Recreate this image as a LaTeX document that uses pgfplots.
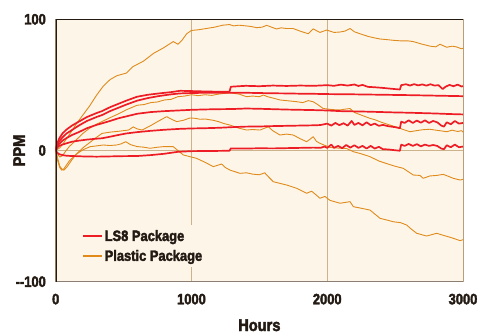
\documentclass[border=0pt]{standalone}
\usepackage{fontspec}
\setmainfont{Liberation Sans}[FakeStretch=0.86]
\newfontfamily\hvb{Liberation Sans Bold}[FakeStretch=0.86, FakeBold=2.5]
\usepackage{pgfplots}
\pgfplotsset{compat=1.18}
\definecolor{bgc}{HTML}{FDF6E8}
\definecolor{redc}{HTML}{EE1C25}
\definecolor{orc}{HTML}{E08A1C}
\definecolor{gridc}{HTML}{CDB38B}
\definecolor{txtc}{HTML}{231A14}
\definecolor{botc}{HTML}{8A7F72}
\begin{document}
\begin{tikzpicture}
\path[use as bounding box] (0,0) rectangle (479bp,334bp);
\begin{axis}[
  at={(55.7bp,52.3bp)}, anchor=south west,
  scale only axis, width=407.3bp, height=262.4bp,
  xmin=0,xmax=3000,ymin=-100,ymax=100,
  xtick={0,1000,2000,3000}, xticklabels={0,1000,2000,3000},
  ytick={-100,0,100}, yticklabels={--100,0,100},
  major tick length=0pt,
  grid=major, grid style={gridc, line width=0.9bp},
  axis line style={draw=none},
  axis background/.style={fill=bgc},
  tick label style={font=\fontsize{15bp}{18bp}\selectfont\hvb, text=txtc, inner sep=0pt},
  xticklabel style={anchor=base, yshift=-22.6bp},
  yticklabel style={anchor=east, xshift=-9.7bp},
  xlabel={Hours}, ylabel={PPM},
  label style={font=\fontsize{17bp}{20bp}\selectfont\hvb, text=txtc, inner sep=0pt},
  xlabel style={at={(axis description cs:0.5,-0.1879)}, anchor=base},
  ylabel style={at={(axis description cs:-0.0754,0.5)}, anchor=base},
  legend image code/.code={\draw[#1] (0bp,0bp) -- (18.4bp,0bp);},
  legend style={at={(axis description cs:0.055,0.054)}, anchor=south west, fill=bgc, draw=none,
    font=\fontsize{15bp}{18bp}\selectfont\hvb, text=txtc, row sep=3.5bp,
    inner xsep=4bp, inner ysep=3bp, cells={anchor=west}},
  every axis plot/.append style={line join=round},
]
\addlegendimage{redc, line width=2bp}
\addlegendentry{LS8 Package}
\addlegendimage{orc, line width=2bp}
\addlegendentry{Plastic Package}

% Plastic package (orange)
\addplot[orc, line width=0.9bp, forget plot] coordinates {
(0,0) (30,2) (60,6) (100,12) (150,20) (200,27) (250,34) (300,42) (350,49) (400,54) (450,57)
(520,59) (570,64) (645,68) (720,74) (790,78) (866,83) (900,81) (930,84) (965,89) (1000,91.5)
(1050,92) (1110,93) (1170,94) (1230,95.5) (1280,96) (1310,95) (1350,95.5) (1400,95) (1440,94.5) (1480,93.6)
(1520,94) (1554,95.4) (1590,94) (1627,92.6) (1660,93.5) (1700,93) (1748,93) (1800,91) (1860,89)
(1896,92.7) (1946,90) (1996,91.8) (2050,90) (2094,90.3) (2130,91) (2168,93) (2200,90.5) (2241,89) (2300,87)
(2340,86) (2388,85) (2440,84.5) (2486,84) (2550,83.5) (2600,83.5) (2634,83) (2700,81) (2759,79.5)
(2800,79) (2830,81) (2880,78.7) (2920,79.5) (2950,79) (2990,77.5) (3000,78)
};
\addplot[orc, line width=0.9bp, forget plot] coordinates {
(0,0) (15,-3) (30,-5) (50,-4) (70,-1) (100,3) (150,8) (200,13) (250,17) (300,20) (350,22.5) (400,25)
(464,28) (520,31) (600,34.5) (650,35) (700,36.5) (750,37) (800,38.5) (850,39) (900,41) (950,41.5)
(1000,42.5) (1050,41.8) (1100,42.5) (1150,42) (1200,43) (1283,44) (1350,43) (1406,41) (1450,41.5)
(1500,41) (1530,42.3) (1560,41) (1600,40) (1652,38.5) (1700,38) (1775,37.2) (1820,36.5) (1860,38)
(1896,37.2) (1930,35) (1970,32) (2020,31.4) (2060,31) (2094,30.9) (2130,31.5) (2168,32) (2200,29)
(2250,27) (2315,24.5) (2350,23.5) (2400,21.5) (2462,19.4) (2520,17.5) (2560,16) (2609,14.3)
(2650,15) (2700,15.8) (2756,16.2) (2800,15.5) (2850,14.8) (2880,14.3) (2920,15.5) (2960,14.5)
(2990,15.1) (3000,14)
};
\addplot[orc, line width=0.9bp, forget plot] coordinates {
(0,0) (15,-6) (30,-12) (45,-14) (60,-15) (80,-13) (100,-10) (120,-7) (150,-3) (200,2) (250,6)
(300,10) (341,13) (400,14) (450,14.5) (537,15.6) (571,18) (600,16.5) (636,15.6) (700,19) (750,22)
(817,25.8) (850,24) (891,22) (940,23) (989,24.8) (1030,24.5) (1063,23.8) (1100,24) (1161,23)
(1200,22) (1234,20.7) (1283,19.4) (1350,17) (1406,15.6) (1450,16) (1505,15.6) (1566,18.1)
(1600,15) (1652,11.8) (1700,12.5) (1750,11.8) (1800,9) (1849,6.7) (1897,10.5) (1920,7) (1946,5.5)
(1980,4) (2020,2.4) (2094,1.7) (2143,1.5) (2192,-0.9) (2250,-2.5) (2315,-4.7) (2380,-8) (2438,-10)
(2500,-12) (2560,-13.6) (2634,-18.7) (2683,-19) (2707,-21.2) (2756,-19.4) (2806,-19) (2855,-18.2)
(2900,-20) (2928,-21.2) (2978,-22.5) (3000,-22)
};
\addplot[orc, line width=0.9bp, forget plot] coordinates {
(0,0) (15,-8) (30,-13) (44,-15) (60,-14) (80,-11) (100,-8) (150,-3) (200,0.5) (253,2.9) (300,3.5)
(350,4.2) (400,3.8) (449,4.2) (480,5) (516,6.7) (550,4.5) (600,3) (650,2.5) (695,1.7) (750,2.5)
(800,3) (866,2.9) (900,0) (940,-3.4) (989,-4.7) (1038,-6) (1063,-7.2) (1100,-9) (1161,-12.3)
(1222,-10.3) (1250,-13) (1283,-14.9) (1357,-17.4) (1406,-17) (1450,-18) (1500,-18.5) (1540,-17)
(1554,-18.7) (1603,-23.8) (1650,-25) (1701,-26.3) (1775,-28.8) (1849,-32.6) (1885,-31) (1920,-34)
(1946,-36.4) (1983,-35) (2020,-38) (2094,-40.2) (2168,-39) (2192,-42.8) (2250,-44) (2315,-45.4)
(2389,-51.7) (2440,-53) (2486,-54.3) (2540,-55) (2585,-56.8) (2620,-60) (2659,-63.1) (2732,-65.2)
(2806,-63.1) (2850,-64.5) (2900,-66) (2928,-66.9) (2978,-68.7) (3000,-68)
};

% LS8 package (red)
\addplot[redc, line width=1.7bp, forget plot] coordinates {
(0,0) (10,5) (25,9) (50,13) (80,16) (120,19) (170,22) (230,25.5) (300,28.5) (341,30) (400,33)
(460,35.5) (520,38) (600,41) (680,42.5) (760,43.5) (850,44.5) (915,45.5) (1000,45.3) (1100,45)
(1200,44.8) (1280,44.8) (1290,48.6) (1350,49) (1400,49.3) (1500,49) (1600,49.5) (1700,49.2)
(1800,49.5) (1900,49.3) (2000,49.8) (2050,49.3) (2100,50.2) (2150,49.5) (2200,50.3) (2230,49.2)
(2260,50) (2300,48.5) (2350,48.2) (2400,47.8) (2450,47.3) (2500,46.8) (2535,46.5) (2545,49.8)
(2580,50.5) (2610,49.5) (2640,50.6) (2670,49.6) (2700,50.4) (2730,49.4) (2760,50.5) (2790,49.5)
(2820,49.8) (2850,46.8) (2870,48.5) (2900,50) (2930,49) (2960,50.2) (2990,48.8) (3000,49)
};
\addplot[redc, line width=1.7bp, forget plot] coordinates {
(0,0) (10,4) (25,7) (50,10) (80,13) (120,15.6) (170,19) (230,22.5) (300,25.5) (341,27) (400,30)
(460,32.5) (520,35) (600,38) (680,40) (760,41.5) (850,42.8) (915,43.5) (1000,43.8) (1100,44)
(1200,44) (1300,44) (1400,44) (1500,43.8) (1600,43.6) (1700,43.5) (1800,43.3) (1900,43.2)
(2000,43) (2200,42.8) (2400,42.5) (2600,42.2) (2800,41.8) (3000,41.4)
};
\addplot[redc, line width=1.7bp, forget plot] coordinates {
(0,0) (10,2.5) (25,5) (50,7.5) (80,9.5) (120,11.8) (170,14) (230,17) (300,19.5) (341,20.7)
(400,22.5) (460,24.5) (520,26) (600,28) (700,29.3) (800,30) (900,30.5) (1000,31) (1100,31.3)
(1200,31.5) (1300,31.6) (1400,32) (1500,31.8) (1600,31.5) (1700,31.2) (1800,31) (1900,30.8)
(2000,30.5) (2100,30) (2200,29.8) (2300,29.6) (2400,29.3) (2500,29) (2600,28.8) (2700,28.5)
(2800,28.2) (2900,27.8) (3000,27.5)
};
\addplot[redc, line width=1.7bp, forget plot] coordinates {
(0,0) (10,2) (25,3.5) (50,4.5) (80,5.5) (120,6.7) (170,7.5) (230,8.3) (300,9) (341,9.3) (400,10.5)
(460,11.8) (520,13) (600,14) (700,15) (800,15.8) (915,16.5) (1000,16.8) (1100,17) (1200,17.3)
(1300,17.8) (1400,18.2) (1500,18.3) (1600,18.6) (1700,18.8) (1800,19) (1900,19.2) (1950,19.4)
(2000,20.5) (2030,19) (2060,21) (2090,19.3) (2120,20.8) (2150,19) (2180,22.5) (2200,19.5)
(2230,21) (2260,19.2) (2290,21.5) (2320,19.3) (2350,20.5) (2380,18.8) (2410,19.5) (2450,18.5)
(2500,17.8) (2535,17) (2545,22) (2570,21) (2600,23) (2630,21) (2660,22.8) (2690,21.2) (2720,23)
(2750,21) (2780,22.5) (2810,21.5) (2840,19) (2860,18.2) (2880,21.5) (2910,20) (2940,22.5)
(2970,20.5) (3000,21)
};
\addplot[redc, line width=1.7bp, forget plot] coordinates {
(0,0) (10,-1.5) (25,-2.8) (50,-3.5) (80,-4) (120,-4.2) (200,-4.5) (300,-4.7) (400,-4.5) (500,-4.3)
(600,-4.2) (700,-3.5) (800,-2.5) (900,-1) (1000,-0.5) (1100,-0.4) (1200,-0.3) (1280,-0.2)
(1290,1.6) (1400,1.5) (1500,1.7) (1600,1.6) (1700,1.8) (1800,2) (1900,2.2) (1950,2) (1980,3)
(2000,2) (2030,4.5) (2050,2) (2080,3.5) (2110,1.8) (2140,4.2) (2170,2.2) (2200,4) (2230,2)
(2260,3.5) (2290,1.5) (2320,3.5) (2350,1.5) (2380,2.8) (2410,1) (2450,0.8) (2500,0.2) (2535,-0.2)
(2545,4.5) (2570,3.5) (2600,5) (2630,3.5) (2660,4.8) (2690,3.2) (2720,4.5) (2750,3.5) (2780,4.2)
(2810,3.5) (2840,1.5) (2860,1) (2880,4) (2910,2.5) (2940,4.5) (2970,2.5) (3000,3)
};

\draw[txtc, line width=1bp] (rel axis cs:0,1) -- (rel axis cs:1,1) -- (rel axis cs:1,0);
\draw[botc, line width=1.8bp] (rel axis cs:0,0) -- (rel axis cs:1,0);
\draw[txtc, line width=1.6bp] (rel axis cs:0,0) -- (rel axis cs:0,1);
\end{axis}
\end{tikzpicture}
\end{document}
